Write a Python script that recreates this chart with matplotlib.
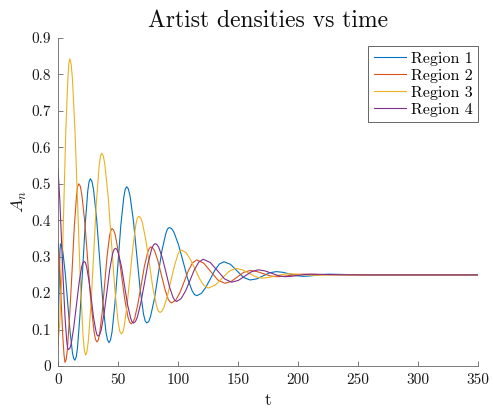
import matplotlib
matplotlib.use("Agg")
import matplotlib.pyplot as plt

plt.rcParams["font.family"] = "cmr10"
plt.rcParams["mathtext.fontset"] = "cm"
plt.rcParams["axes.formatter.use_mathtext"] = True

# Sampled artist densities A_n(t) for each region
t_r1 = [0, 0.6, 1.2, 1.6, 2.0, 3.0, 4.0, 6.0, 8.0, 10.0, 12.0, 13.0, 14.0,
        15.1, 16.2, 18.3, 20.5, 22.7, 24.8, 25.9, 27.0,
        28.3, 29.6, 32.2, 34.8, 37.3, 39.9, 41.2, 42.5,
        43.7, 45.0, 47.4, 49.9, 52.3, 54.8, 56.0, 57.2,
        58.6, 60.0, 62.8, 65.6, 68.4, 71.2, 72.6, 74.0,
        75.6, 77.1, 80.3, 83.4, 86.5, 89.7, 91.2, 92.8,
        94.7, 96.6, 100.4, 104.2, 108.0, 111.8, 113.7, 115.6,
        119.4, 123.2, 127.0, 130.7, 134.5, 138.3,
        143.7, 149.2, 154.6, 160.0,
        165.5, 171.0, 176.5, 182.0,
        187.5, 193.0, 198.5, 204.0,
        209.5, 215.0, 220.5, 226.0,
        240.0, 260.0, 350.0]
a_r1 = [0.060, 0.170, 0.270, 0.315, 0.335, 0.330, 0.314, 0.255, 0.176, 0.096, 0.037, 0.021, 0.016,
        0.024, 0.049, 0.141, 0.265, 0.390, 0.481, 0.506, 0.514,
        0.506, 0.484, 0.402, 0.289, 0.177, 0.094, 0.072, 0.064,
        0.071, 0.093, 0.171, 0.278, 0.385, 0.463, 0.485, 0.492,
        0.486, 0.467, 0.399, 0.305, 0.212, 0.143, 0.124, 0.118,
        0.122, 0.136, 0.184, 0.249, 0.315, 0.362, 0.376, 0.380,
        0.377, 0.367, 0.333, 0.287, 0.240, 0.206, 0.196, 0.193,
        0.199, 0.216, 0.2395, 0.263, 0.280, 0.286,
        0.279, 0.261, 0.243, 0.236,
        0.239, 0.2475, 0.256, 0.259,
        0.257, 0.2525, 0.248, 0.246,
        0.247, 0.249, 0.251, 0.252,
        0.251, 0.250, 0.250]

t_r2 = [0, 1.0, 2.0, 3.0, 4.0, 5.0, 5.8,
        6.8, 7.7, 9.6, 11.6, 13.5, 15.4, 16.3, 17.3,
        18.6, 19.8, 22.4, 24.9, 27.4, 30.0, 31.2, 32.5,
        33.5, 34.6, 36.7, 38.8, 40.8, 42.9, 44.0, 45.0,
        46.3, 47.7, 50.3, 53.0, 55.7, 58.3, 59.7, 61.0,
        62.4, 63.8, 66.5, 69.3, 72.0, 74.8, 76.1, 77.5,
        78.9, 80.4, 83.2, 86.1, 89.0, 91.8, 93.3, 94.7,
        98.2, 101.7, 105.2, 108.6, 112.1, 115.6,
        121.5, 127.3, 133.2, 139.0,
        144.3, 149.5, 154.8, 160.0,
        165.5, 171.0, 176.5, 182.0,
        187.5, 193.0, 198.5, 204.0,
        225.0, 250.0, 350.0]
a_r2 = [0.340, 0.300, 0.230, 0.150, 0.080, 0.030, 0.010,
        0.018, 0.043, 0.133, 0.255, 0.378, 0.467, 0.492, 0.500,
        0.493, 0.471, 0.392, 0.283, 0.175, 0.095, 0.073, 0.066,
        0.071, 0.087, 0.144, 0.222, 0.299, 0.356, 0.372, 0.377,
        0.373, 0.360, 0.312, 0.247, 0.181, 0.134, 0.120, 0.116,
        0.120, 0.130, 0.169, 0.222, 0.274, 0.313, 0.323, 0.327,
        0.324, 0.317, 0.289, 0.250, 0.212, 0.183, 0.176, 0.173,
        0.181, 0.2025, 0.232, 0.2615, 0.283, 0.291,
        0.282, 0.259, 0.236, 0.227,
        0.232, 0.2445, 0.257, 0.262,
        0.2595, 0.2535, 0.2475, 0.245,
        0.246, 0.2485, 0.251, 0.252,
        0.2505, 0.250, 0.250]

t_r3 = [0, 1.6, 3.3, 4.9, 6.5, 8.2, 9.0, 9.8,
        10.9, 12.0, 14.2, 16.4, 18.6, 20.8, 21.9, 23.0,
        24.1, 25.2, 27.5, 29.7, 31.9, 34.2, 35.3, 36.4,
        37.8, 39.1, 41.9, 44.6, 47.3, 50.1, 51.4, 52.8,
        54.0, 55.2, 57.6, 60.1, 62.5, 64.9, 66.1, 67.3,
        68.8, 70.3, 73.2, 76.2, 79.1, 82.1, 83.5, 85.0,
        86.5, 88.0, 91.0, 94.0, 97.0, 100.0, 101.5, 103.0,
        106.7, 110.4, 114.2, 117.9, 121.6, 125.3,
        131.1, 136.8, 142.6, 148.3,
        153.7, 159.2, 164.6, 170.0,
        175.5, 181.0, 186.5, 192.0,
        197.5, 203.0, 208.5, 214.0,
        235.0, 260.0, 350.0]
a_r3 = [0.060, 0.125, 0.260, 0.450, 0.647, 0.790, 0.830, 0.843,
        0.829, 0.789, 0.640, 0.437, 0.233, 0.085, 0.044, 0.030,
        0.039, 0.067, 0.169, 0.307, 0.446, 0.547, 0.575, 0.584,
        0.576, 0.551, 0.460, 0.336, 0.212, 0.121, 0.096, 0.088,
        0.093, 0.110, 0.169, 0.250, 0.330, 0.389, 0.406, 0.411,
        0.407, 0.393, 0.345, 0.279, 0.213, 0.165, 0.151, 0.147,
        0.150, 0.159, 0.190, 0.233, 0.275, 0.307, 0.315, 0.318,
        0.311, 0.292, 0.266, 0.240, 0.221, 0.214,
        0.222, 0.241, 0.260, 0.268,
        0.264, 0.2545, 0.245, 0.241,
        0.243, 0.247, 0.251, 0.253,
        0.2525, 0.251, 0.2495, 0.249,
        0.2502, 0.250, 0.250]

t_r4 = [0, 1.5, 2.9, 4.4, 5.9, 7.3, 8.0, 8.8,
        9.9, 11.0, 13.1, 15.3, 17.5, 19.6, 20.7, 21.8,
        22.8, 23.8, 25.7, 27.7, 29.6, 31.6, 32.5, 33.5,
        34.7, 35.9, 38.3, 40.7, 43.0, 45.4, 46.6, 47.8,
        49.1, 50.3, 52.9, 55.4, 57.9, 60.5, 61.7, 63.0,
        64.5, 66.0, 69.0, 72.0, 75.0, 78.0, 79.5, 81.0,
        82.5, 84.0, 87.0, 90.0, 92.9, 95.9, 97.4, 98.9,
        102.6, 106.3, 110.0, 113.6, 117.3, 121.0,
        126.9, 132.9, 138.8, 144.7,
        150.3, 155.8, 161.4, 166.9,
        172.4, 178.0, 183.5, 189.0,
        194.5, 200.0, 205.5, 211.0,
        232.0, 255.0, 350.0]
a_r4 = [0.540, 0.455, 0.345, 0.230, 0.130, 0.066, 0.050, 0.045,
        0.049, 0.061, 0.106, 0.166, 0.227, 0.271, 0.283, 0.287,
        0.284, 0.273, 0.236, 0.185, 0.133, 0.096, 0.085, 0.082,
        0.086, 0.098, 0.142, 0.2025, 0.263, 0.307, 0.319, 0.323,
        0.320, 0.309, 0.272, 0.2205, 0.169, 0.132, 0.121, 0.118,
        0.122, 0.133, 0.173, 0.227, 0.282, 0.321, 0.332, 0.336,
        0.333, 0.3255, 0.296, 0.2565, 0.217, 0.188, 0.180, 0.177,
        0.185, 0.206, 0.235, 0.264, 0.285, 0.293,
        0.284, 0.2615, 0.239, 0.230,
        0.235, 0.247, 0.259, 0.264,
        0.261, 0.2545, 0.248, 0.245,
        0.246, 0.2485, 0.251, 0.252,
        0.2505, 0.250, 0.250]

series_labels = ["Region 1", "Region 2", "Region 3", "Region 4"]
series_colors = ["#0072BD", "#D95319", "#EDB120", "#7E2F8E"]

x_ticks = [0, 50, 100, 150, 200, 250, 300, 350]
y_ticks = [0, 0.1, 0.2, 0.3, 0.4, 0.5, 0.6, 0.7, 0.8, 0.9]
y_tick_labels = ["0", "0.1", "0.2", "0.3", "0.4", "0.5", "0.6", "0.7", "0.8", "0.9"]

fig = plt.figure(figsize=(4.93, 4.09), dpi=100)
ax = fig.add_axes([0.1177, 0.1051, 0.8519, 0.8020])

series = [(t_r1, a_r1), (t_r2, a_r2), (t_r3, a_r3), (t_r4, a_r4)]
for (t, a), lab, col in zip(series, series_labels, series_colors):
    ax.plot(t, a, color=col, lw=0.8, label=lab, solid_joinstyle="round")

ax.set_xlim(0, 350)
ax.set_ylim(0, 0.9)
ax.set_xticks(x_ticks)
ax.set_xticklabels([str(v) for v in x_ticks])
ax.set_yticks(y_ticks)
ax.set_yticklabels(y_tick_labels)

for side in ("top", "right"):
    ax.spines[side].set_visible(False)
for side in ("left", "bottom"):
    ax.spines[side].set_color("0.4")
    ax.spines[side].set_linewidth(0.6)
ax.tick_params(direction="in", length=3.5, width=0.6, color="0.4",
               labelsize=11, labelcolor="0.1", pad=5)

ax.set_title("Artist densities vs time", fontsize=17, pad=8, color="0.05")
ax.set_xlabel("t", fontsize=12.5, labelpad=4, color="0.1")
ax.set_ylabel(r"$A_n$", fontsize=13, labelpad=2, color="0.1")

leg = ax.legend(loc="upper right", bbox_to_anchor=(1.0, 0.975), fontsize=11.5,
                frameon=True, fancybox=False, framealpha=1, edgecolor="0.3",
                handlelength=2.0, handletextpad=0.3, borderpad=0.35,
                labelspacing=0.17, borderaxespad=0.0)
leg.get_frame().set_linewidth(0.6)

fig.savefig("out.png", dpi=100)
